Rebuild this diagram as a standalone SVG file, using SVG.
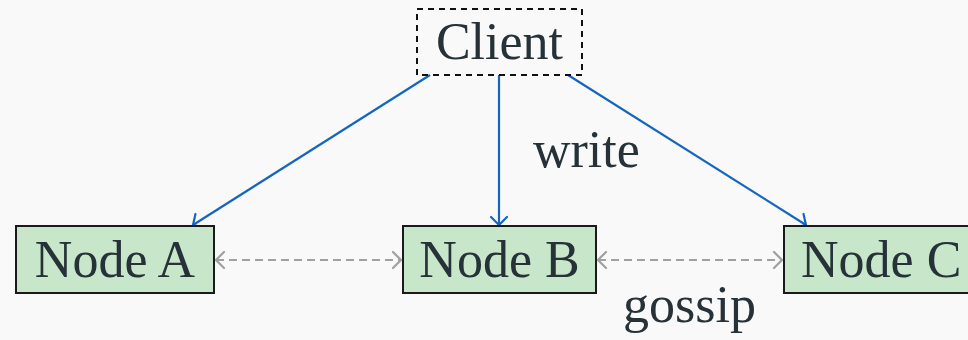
<svg xmlns="http://www.w3.org/2000/svg" width="968" height="340" viewBox="0 0 968 340">
<style>
.bg{fill:#f9f9f9}
.node rect{fill:#c8e6c9;stroke:#1a1a1a;stroke-width:2}
.client rect{fill:none;stroke:#111;stroke-width:2;stroke-dasharray:6 5}
text{font-family:"Liberation Serif","DejaVu Serif",serif;font-size:52px;fill:#263238}
.w{stroke:#1565c0;stroke-width:2.2;fill:none}
.g{stroke:#a0a0a0;stroke-width:2.2;fill:none;stroke-dasharray:8 5}
</style>
<defs>
<marker id="hb" markerUnits="userSpaceOnUse" markerWidth="20" markerHeight="20" viewBox="-10 -10 20 20" refX="0" refY="0" orient="auto-start-reverse" overflow="visible">
<path d="M-8,-8 Q-2,-2 0,0 Q-2,2 -8,8" fill="none" stroke="#1565c0" stroke-width="2.2" stroke-linecap="round"/>
</marker>
<marker id="hg" markerUnits="userSpaceOnUse" markerWidth="20" markerHeight="20" viewBox="-10 -10 20 20" refX="0" refY="0" orient="auto-start-reverse" overflow="visible">
<path d="M-8,-8 Q-2,-2 0,0 Q-2,2 -8,8" fill="none" stroke="#a0a0a0" stroke-width="2.2" stroke-linecap="round"/>
</marker>
</defs>
<rect class="bg" x="0" y="0" width="968" height="340"/>
<g id="connectors">
<line class="w" x1="430" y1="75" x2="193" y2="225" marker-end="url(#hb)"/>
<line class="w" x1="499" y1="75" x2="499" y2="225" marker-end="url(#hb)"/>
<line class="w" x1="568" y1="75" x2="806" y2="225" marker-end="url(#hb)"/>
<line class="g" x1="216" y1="260" x2="401" y2="260" marker-start="url(#hg)" marker-end="url(#hg)"/>
<line class="g" x1="598" y1="260" x2="782" y2="260" marker-start="url(#hg)" marker-end="url(#hg)"/>
<text x="533" y="167">write</text>
<text x="623" y="322">gossip</text>
</g>
<g id="client" class="client">
<rect x="417" y="9" width="165" height="66"/>
<text x="499.5" y="59" text-anchor="middle">Client</text>
</g>
<g id="nodeA" class="node">
<rect x="16" y="226" width="198" height="67"/>
<text x="115" y="277" text-anchor="middle">Node A</text>
</g>
<g id="nodeB" class="node">
<rect x="403" y="226" width="193" height="67"/>
<text x="499.5" y="277" text-anchor="middle">Node B</text>
</g>
<g id="nodeC" class="node">
<rect x="784" y="226" width="198" height="67"/>
<text x="801" y="277">Node C</text>
</g>
</svg>
